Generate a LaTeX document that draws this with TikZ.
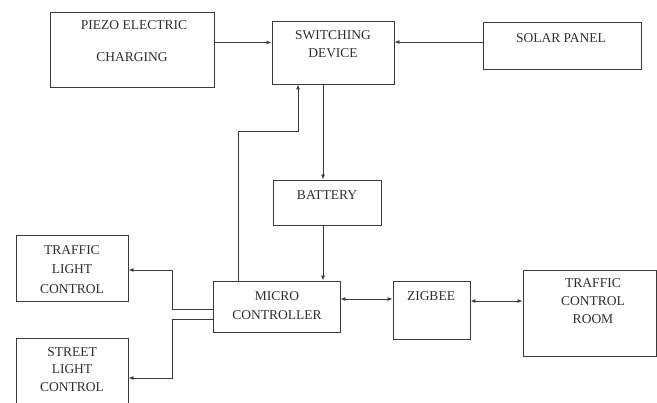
\documentclass[tikz,border=0pt]{standalone}
\usepackage{fontspec}
\setmainfont{Liberation Serif}
\usetikzlibrary{arrows.meta}
\definecolor{ln}{HTML}{3A3A3A}
\definecolor{tx}{HTML}{2E2E2E}
\begin{document}
\begin{tikzpicture}[x=1pt,y=-1pt,
  box/.style={draw=ln,line width=0.9pt,inner sep=0pt,fill=none},
  lbl/.style={text=tx,font=\fontsize{13.5}{16}\selectfont,inner sep=0pt,anchor=center},
  arr/.style={draw=ln,line width=0.9pt,-{Latex[length=5pt,width=4pt]}},
  darr/.style={draw=ln,line width=0.9pt,{Latex[length=5pt,width=4pt]}-{Latex[length=5pt,width=4pt]}},
  wire/.style={draw=ln,line width=0.9pt},
  shade/.style={draw=ln,line width=1.6pt}]
\useasboundingbox (0,0) rectangle (657,403);
\fill[white] (0,0) rectangle (657,403);
\clip (0,0) rectangle (657,403);
% boxes
\node[box,minimum width=164,minimum height=75] (piezo) at (132,49.5) {};
\node[box,minimum width=122,minimum height=63] (sw) at (333,52.5) {};
\node[box,minimum width=158,minimum height=47] (solar) at (562,45.5) {};
\node[box,minimum width=108,minimum height=45] (bat) at (327,202.5) {};
\node[box,minimum width=127,minimum height=51] (micro) at (276.5,306.5) {};
\node[box,minimum width=77,minimum height=58] (zig) at (431.5,310) {};
\node[box,minimum width=133,minimum height=86] (tcr) at (589.5,313) {};
\node[box,minimum width=112,minimum height=66] (tl) at (72,268) {};
\node[box,minimum width=112,minimum height=68] (sl) at (72,372) {};
% shadow edges
\draw[shade] (sw.south west) -- (sw.south east) -- (sw.north east);
\draw[shade] (tcr.south west) -- (tcr.south east);
% texts
\node[lbl] (t1) at (134,25) {PIEZO ELECTRIC};
\node[lbl] (t2) at (132,57) {CHARGING};
\node[lbl] (t3) at (333,35) {SWITCHING};
\node[lbl] (t4) at (333,53) {DEVICE};
\node[lbl] (t5) at (561,38) {SOLAR PANEL};
\node[lbl] (t6) at (327,195) {BATTERY};
\node[lbl] (t7) at (277,296) {MICRO};
\node[lbl] (t8) at (277,315) {CONTROLLER};
\node[lbl] (t9) at (431,296) {ZIGBEE};
\node[lbl] (t10) at (593,283) {TRAFFIC};
\node[lbl] (t11) at (593,301) {CONTROL};
\node[lbl] (t12) at (593,319) {ROOM};
\node[lbl] (t13) at (72,250) {TRAFFIC};
\node[lbl] (t14) at (72,269) {LIGHT};
\node[lbl] (t15) at (72,289) {CONTROL};
\node[lbl] (t16) at (72,352) {STREET};
\node[lbl] (t17) at (72,369) {LIGHT};
\node[lbl] (t18) at (72,387) {CONTROL};
% connectors
\draw[arr] (piezo.east |- 0,42.5) -- (sw.west |- 0,42.5);
\draw[arr] (solar.west |- 0,42) -- (sw.east |- 0,42);
\draw[arr] (micro.north -| 238,0) |- (298,131) -- (sw.south -| 298,0);
\draw[arr] (sw.south -| 323,0) -- (bat.north -| 323,0);
\draw[arr] (bat.south -| 323,0) -- (micro.north -| 323,0);
\draw[darr] (micro.east |- 0,299) -- (zig.west |- 0,299);
\draw[darr] (zig.east |- 0,301) -- (tcr.west |- 0,301);
\draw[arr] (micro.west |- 0,309) -| (172,270) -- (tl.east |- 0,270);
\draw[arr] (micro.west |- 0,319) -| (172,378) -- (sl.east |- 0,378);
\end{tikzpicture}
\end{document}
